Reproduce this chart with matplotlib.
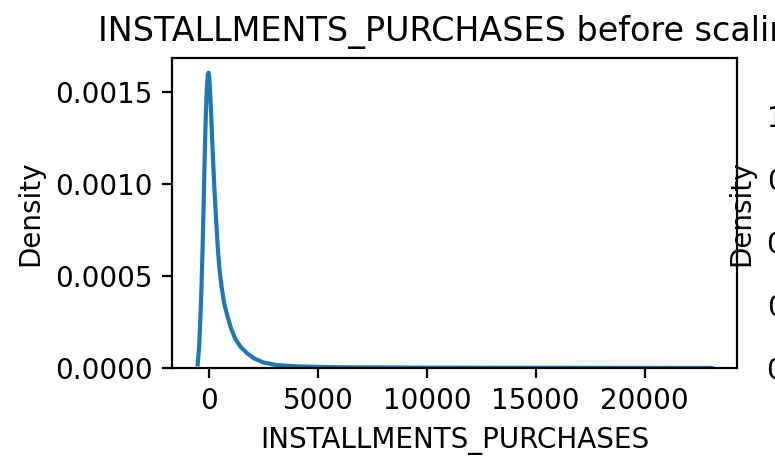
import matplotlib
matplotlib.use("Agg")
import matplotlib.pyplot as plt

# Kernel density estimate of INSTALLMENTS_PURCHASES (value, density)
purchase_values = [
    -520, -450, -400, -350, -300, -250, -200, -150, -100, -50, -20, 10,
    60, 120, 170, 250, 320, 400, 470, 580, 700, 850, 1000, 1200, 1450,
    1750, 2070, 2500, 3100, 4000, 5000, 6000, 8000, 10000, 12000, 15000,
    18000, 21000, 22500, 23060,
]
density_values = [
    0.00002, 0.00012, 0.00026, 0.00042, 0.00063, 0.00087, 0.00114, 0.00136,
    0.00152, 0.00160, 0.001605, 0.00158, 0.00148, 0.00132, 0.00117, 0.00097,
    0.00082, 0.00066, 0.00055, 0.00044, 0.00035, 0.00028, 0.00022, 0.00016,
    0.000115, 0.00008, 0.000052, 0.00003, 0.000016, 0.000009, 0.000006,
    0.000004, 0.000003, 0.000002, 0.0000015, 0.000001, 0.0000008, 0.0000005,
    0.0000004, 0.0000001,
]

# Ticks of the neighbouring "after scaling" panel
scaled_ticks = [0.0, 0.25, 0.5, 0.75, 1.0]

W, H, DPI = 775, 461, 200
fig = plt.figure(figsize=(W / DPI, H / DPI), dpi=DPI)

ax = fig.add_axes([172 / W, (H - 368) / H, (737 - 172) / W, (368 - 58) / H])
line, = ax.plot(purchase_values, density_values, color="#1f77b4", lw=1.5)
line.sticky_edges.y.append(0)
ax.set_title("INSTALLMENTS_PURCHASES before scaling")
ax.set_xlabel("INSTALLMENTS_PURCHASES")
ax.set_ylabel("Density")
ax.set_xticks([0, 5000, 10000, 15000, 20000])
ax.set_yticks([0.0, 0.0005, 0.0010, 0.0015])
ax.set_yticklabels(["0.0000", "0.0005", "0.0010", "0.0015"])

ax2 = fig.add_axes([848 / W, (H - 368) / H, (737 - 172) / W, (368 - 58) / H])
ax2.set_ylim(0, 1.23)
ax2.set_yticks(scaled_ticks)
ax2.set_ylabel("Density")
ax2.set_title("INSTALLMENTS_PURCHASES after scaling")
ax2.set_xlabel("INSTALLMENTS_PURCHASES")

fig.savefig("out.png", dpi=DPI)
